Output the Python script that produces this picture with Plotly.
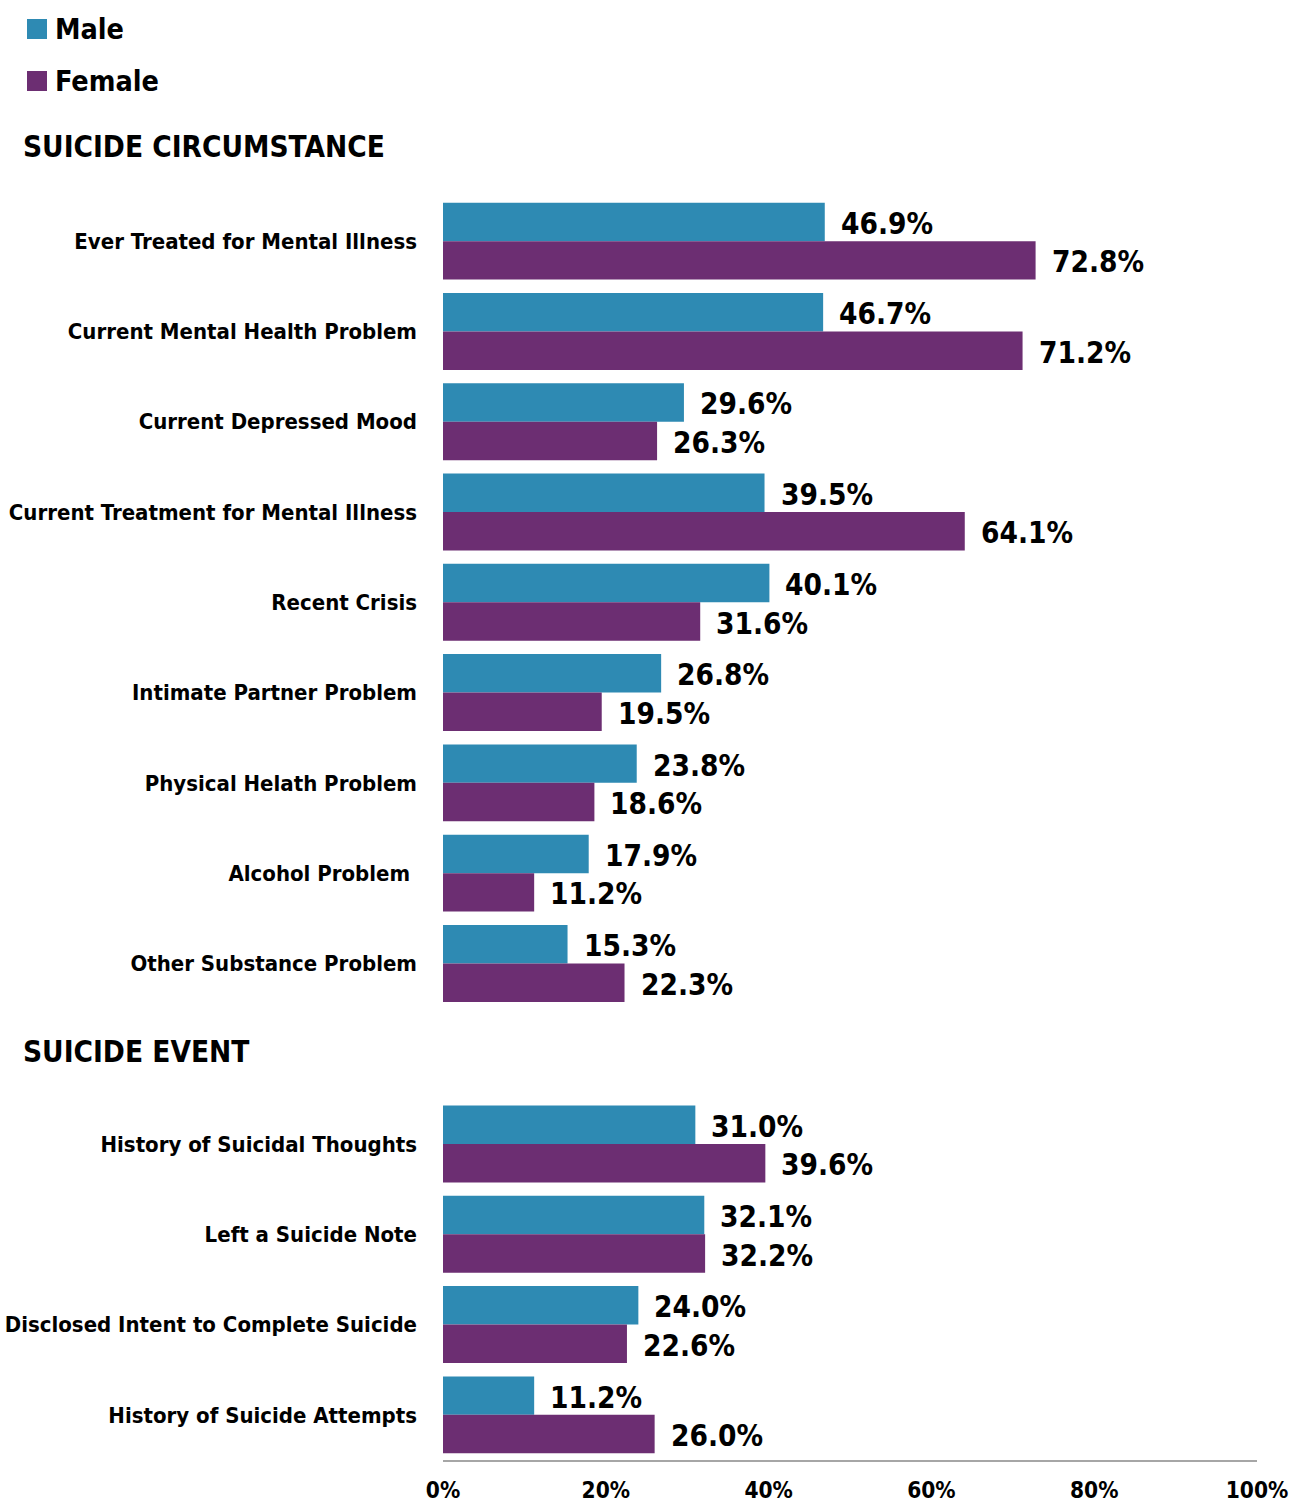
import plotly.graph_objects as go

categories = [
    "Ever Treated for Mental Illness",
    "Current Mental Health Problem",
    "Current Depressed Mood",
    "Current Treatment for Mental Illness",
    "Recent Crisis",
    "Intimate Partner Problem",
    "Physical Helath Problem",
    "Alcohol Problem ",
    "Other Substance Problem",
    "History of Suicidal Thoughts",
    "Left a Suicide Note",
    "Disclosed Intent to Complete Suicide",
    "History of Suicide Attempts",
]
slots = [0, 1, 2, 3, 4, 5, 6, 7, 8, 10, 11, 12, 13]
male = [46.9, 46.7, 29.6, 39.5, 40.1, 26.8, 23.8, 17.9, 15.3, 31.0, 32.1, 24.0, 11.2]
female = [72.8, 71.2, 26.3, 64.1, 31.6, 19.5, 18.6, 11.2, 22.3, 39.6, 32.2, 22.6, 26.0]
section_titles = ["SUICIDE CIRCUMSTANCE", "SUICIDE EVENT"]
x_ticks = [0, 20, 40, 60, 80, 100]

MALE_C = "#2E8AB3"
FEMALE_C = "#6C2E72"
FONT = "DejaVu Sans Condensed, DejaVu Sans, sans-serif"

W, H = 1294, 1507
L, R, T, B = 443, 37, 196, 47
PW, PH = W - L - R, H - T - B


def px(x):
    return (x - L) / PW


def py(y):
    return 1 - (y - T) / PH


BW = 0.426
VAL_SIZE = 29.5

fig = go.Figure()
fig.add_trace(go.Bar(
    name="Male", y=slots, x=male, orientation="h", base=0,
    offset=-BW, width=BW, marker=dict(color=MALE_C, line=dict(width=0)),
    showlegend=False, hoverinfo="x+name",
))
fig.add_trace(go.Bar(
    name="Female", y=slots, x=female, orientation="h", base=0,
    offset=0, width=BW, marker=dict(color=FEMALE_C, line=dict(width=0)),
    showlegend=False, hoverinfo="x+name",
))

annotations = []
for s, m, f in zip(slots, male, female):
    annotations.append(dict(x=m, y=s - BW / 2, xref="x", yref="y", text=f"{m:.1f}%",
                            showarrow=False, xanchor="left", yanchor="middle", xshift=14, yshift=-2,
                            font=dict(family=FONT, size=VAL_SIZE, color="black", weight="bold")))
    annotations.append(dict(x=f, y=s + BW / 2, xref="x", yref="y", text=f"{f:.1f}%",
                            showarrow=False, xanchor="left", yanchor="middle", xshift=14, yshift=-2,
                            font=dict(family=FONT, size=VAL_SIZE, color="black", weight="bold")))

# section headings
annotations.append(dict(x=px(21), y=py(147), xref="paper", yref="paper", text=section_titles[0],
                        showarrow=False, xanchor="left", yanchor="middle",
                        font=dict(family=FONT, size=29.5, color="black", weight="bold")))
annotations.append(dict(x=px(21), y=9, xref="paper", yref="y", text=section_titles[1],
                        showarrow=False, xanchor="left", yanchor="middle", yshift=2,
                        font=dict(family=FONT, size=29.5, color="black", weight="bold")))

# legend
shapes = []
for name, col, cy in [("Male", MALE_C, 29), ("Female", FEMALE_C, 81)]:
    shapes.append(dict(type="rect", xref="paper", yref="paper",
                       x0=px(27), x1=px(47), y0=py(cy - 10), y1=py(cy + 10),
                       fillcolor=col, line=dict(width=0)))
    annotations.append(dict(x=px(53), y=py(cy), xref="paper", yref="paper", text=name,
                            showarrow=False, xanchor="left", yanchor="middle",
                            font=dict(family=FONT, size=28.5, color="black", weight="bold")))

fig.update_layout(
    width=W, height=H,
    margin=dict(l=L, r=R, t=T, b=B, pad=0),
    paper_bgcolor="white", plot_bgcolor="white",
    barmode="overlay",
    annotations=annotations, shapes=shapes,
    xaxis=dict(range=[0, 100], tickvals=x_ticks, ticktext=[f"{v}%" for v in x_ticks],
               showgrid=False, zeroline=False, showline=True, linecolor="#a6a6a6", linewidth=2,
               ticks="", ticklabelstandoff=9, automargin=False,
               tickfont=dict(family=FONT, size=22.5, color="black", weight="bold"),
               fixedrange=True),
    yaxis=dict(range=[13.5, -0.5], tickvals=slots, ticktext=categories,
               showgrid=False, zeroline=False, showline=False, ticks="",
               ticklabelstandoff=25, automargin=False,
               tickfont=dict(family=FONT, size=22, color="black", weight="bold"),
               fixedrange=True),
)

fig.write_html(
    "out.html",
    config={"displayModeBar": False},
    post_script="document.body.style.margin='0';document.body.style.overflow='hidden';",
)
